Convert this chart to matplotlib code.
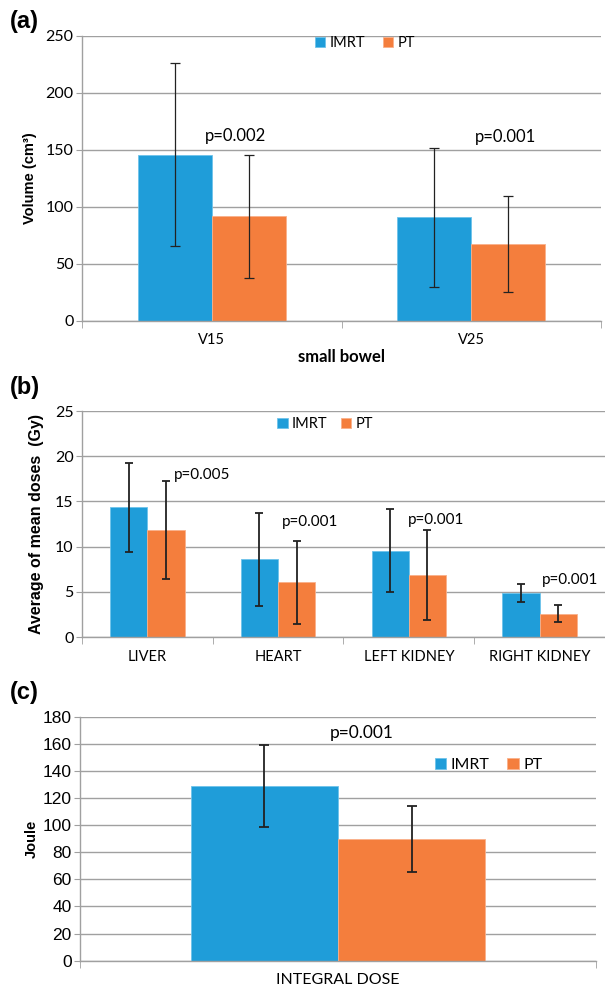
import numpy as np
import matplotlib
matplotlib.use("Agg")
import matplotlib.pyplot as plt

plt.rcParams['font.family'] = ['Lato', 'DejaVu Sans']

blue = '#1f9dd9'
orange = '#f47e3d'
grid_col = '#a0a0a0'

# (a) small bowel
cats_a = ['V15', 'V25']
imrt_a = [145.8, 90.7]
imrt_a_err = [80.6, 61.0]
pt_a = [91.6, 67.6]
pt_a_err = [54.0, 42.0]
p_a = ['p=0.002', 'p=0.001']
p_a_y = [162, 161]

# (b) mean doses
cats_b = ['LIVER', 'HEART', 'LEFT KIDNEY', 'RIGHT KIDNEY']
imrt_b = [14.35, 8.58, 9.54, 4.86]
imrt_b_err = [4.9, 5.1, 4.6, 0.95]
pt_b = [11.82, 6.07, 6.89, 2.58]
pt_b_err = [5.4, 4.6, 5.0, 0.97]
p_b = ['p=0.005', 'p=0.001', 'p=0.001', 'p=0.001']
p_b_y = [17.9, 12.7, 12.9, 6.26]

# (c) integral dose
cats_c = ['INTEGRAL DOSE']
imrt_c = [128.8]
imrt_c_err = [30.0]
pt_c = [89.7]
pt_c_err = [24.3]
p_c = 'p=0.001'
p_c_y = 167.7

W = 0.285


def setup(ax, n, ymax, step, tickfont):
    ax.set_xlim(-0.5, n - 0.5)
    ax.set_ylim(0, ymax)
    ax.set_yticks(np.arange(0, ymax + 1, step))
    ax.grid(axis='y', color=grid_col, linewidth=1.0)
    ax.set_axisbelow(True)
    for s in ['top', 'right']:
        ax.spines[s].set_visible(False)
    for s in ['left', 'bottom']:
        ax.spines[s].set_color(grid_col)
        ax.spines[s].set_linewidth(1.0)
    ax.tick_params(axis='y', length=4, color=grid_col, labelsize=11.5, pad=2)
    ax.tick_params(axis='x', which='major', length=0, labelsize=10.5, pad=9)
    ax.set_xticks(np.arange(-0.5, n, 1.0), minor=True)
    ax.tick_params(axis='x', which='minor', length=5, color=grid_col)
    for lab in ax.get_yticklabels():
        lab.set_family(tickfont)


def bars(ax, imrt, ie, pt, pe, cap, lw):
    x = np.arange(len(imrt))
    ax.bar(x - W / 2, imrt, W, color=blue, label='IMRT', edgecolor='#6ec3ea', linewidth=0.6)
    ax.bar(x + W / 2, pt, W, color=orange, label='PT', edgecolor='#f9b08a', linewidth=0.6)
    ax.errorbar(x - W / 2, imrt, yerr=ie, fmt='none', ecolor='#222222', elinewidth=lw, capsize=cap, capthick=lw)
    ax.errorbar(x + W / 2, pt, yerr=pe, fmt='none', ecolor='#222222', elinewidth=lw, capsize=cap, capthick=lw)
    return x


fig = plt.figure(figsize=(6.05, 9.89), dpi=100)

# ---- (a)
ax1 = fig.add_axes([0.1355, 0.6757, 0.858, 0.2879])
setup(ax1, 2, 250, 50, 'Lato')
x = bars(ax1, imrt_a, imrt_a_err, pt_a, pt_a_err, 3.5, 0.9)
ax1.set_xticks(x)
ax1.set_xticklabels(cats_a)
shift_a = [0.09, 0.13]
for i in range(2):
    ax1.text(x[i] + shift_a[i], p_a_y[i], p_a[i], ha='center', va='center', fontsize=12)
ax1.set_xlabel('small bowel', fontsize=12, fontweight='bold', labelpad=1)
ax1.set_ylabel('Volume (cm³)', fontsize=10.5, fontweight='bold', family=['Liberation Sans', 'DejaVu Sans'], labelpad=6)
ax1.legend(loc='upper center', bbox_to_anchor=(0.545, 1.045), ncol=2, frameon=False, fontsize=10.5,
           handlelength=0.7, handleheight=0.7, handletextpad=0.3, columnspacing=1.2)
fig.text(0.017, 0.978, '(a)', fontsize=17, fontweight='bold', family='Liberation Sans', va='center')

# ---- (b)
ax2 = fig.add_axes([0.1355, 0.3559, 0.8645, 0.2285])
setup(ax2, 4, 25, 5, 'Lato')
x = bars(ax2, imrt_b, imrt_b_err, pt_b, pt_b_err, 3, 1.3)
ax2.set_xticks(x)
ax2.set_xticklabels(cats_b)
shift_b = [0.2, 0.03, -0.01, 0.02]
for i in range(4):
    ax2.text(x[i] + shift_b[i], p_b_y[i], p_b[i], ha='left', va='center', fontsize=11)
ax2.set_ylabel('Average of mean doses  (Gy)', fontsize=11.5, fontweight='bold', family=['Liberation Sans', 'DejaVu Sans'], labelpad=8)
ax2.legend(loc='upper center', bbox_to_anchor=(0.465, 1.03), ncol=2, frameon=False, fontsize=10.5,
           handlelength=0.7, handleheight=0.7, handletextpad=0.3, columnspacing=0.9)
fig.text(0.017, 0.6085, '(b)', fontsize=17, fontweight='bold', family='Liberation Sans', va='center')

# ---- (c)
ax3 = fig.add_axes([0.1322, 0.0286, 0.853, 0.2467])
setup(ax3, 1, 180, 20, 'Liberation Sans')
x = bars(ax3, imrt_c, imrt_c_err, pt_c, pt_c_err, 3.5, 1.3)
ax3.set_xticks(x)
ax3.set_xticklabels(cats_c)
ax3.tick_params(axis='x', labelsize=11.5, pad=9)
ax3.tick_params(axis='y', labelsize=12.5)
ax3.text(0.045, p_c_y, p_c, ha='center', va='center', fontsize=12.5)
ax3.set_ylabel('Joule', fontsize=10.5, fontweight='bold', family=['Liberation Sans', 'DejaVu Sans'], labelpad=3)
ax3.legend(loc='upper left', bbox_to_anchor=(0.66, 0.89), ncol=2, frameon=False, fontsize=11.5,
           handlelength=0.7, handleheight=0.7, handletextpad=0.3, columnspacing=1.1)
fig.text(0.017, 0.3, '(c)', fontsize=17, fontweight='bold', family='Liberation Sans', va='center')

fig.savefig('out.png', dpi=100)
